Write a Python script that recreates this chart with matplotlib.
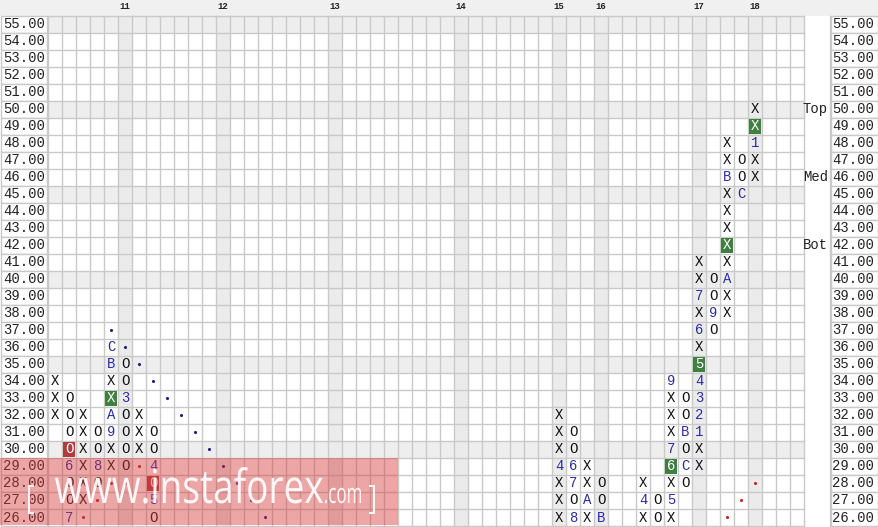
import matplotlib.pyplot as plt
from matplotlib.patches import Rectangle, PathPatch
from matplotlib.textpath import TextPath
from matplotlib.font_manager import FontProperties
from matplotlib.transforms import Affine2D

# --- Data ---
prices = [55, 54, 53, 52, 51, 50, 49, 48, 47, 46, 45, 44, 43, 42, 41, 40,
          39, 38, 37, 36, 35, 34, 33, 32, 31, 30, 29, 28, 27, 26]
band_prices = [55, 50, 45, 40, 35, 30]

month_labels = ['11', '12', '13', '14', '15', '16', '17', '18']
month_cols = [5, 12, 20, 29, 36, 39, 46, 50]

col_idx = [0, 1, 2, 3, 4, 5, 6, 7, 36, 37, 38, 39, 42, 43, 44, 45, 46, 47, 48, 49, 50]
col_kind = ['X', 'O', 'X', 'O', 'X', 'O', 'X', 'O', 'X', 'O', 'X', 'O', 'X', 'O',
            'X', 'O', 'X', 'O', 'X', 'O', 'X']
col_low = [32, 26, 27, 28, 29, 29, 30, 26, 26, 26, 26, 26, 26, 26, 26, 28, 29, 37, 38, 45, 46]
col_high = [34, 33, 32, 31, 36, 35, 32, 31, 32, 31, 29, 28, 28, 27, 34, 33, 41, 40, 48, 47, 50]

# month markers that replace a box symbol
mark_col = [1, 1, 3, 4, 4, 4, 4, 5, 7, 7, 36, 37, 37, 37, 38, 39, 42, 44, 44, 44, 44,
            45, 45, 46, 46, 46, 46, 46, 46, 46, 47, 48, 48, 49, 50]
mark_price = [29, 26, 29, 31, 32, 35, 36, 33, 29, 27, 29, 29, 28, 26, 27, 26, 27, 27, 29, 30, 34,
              31, 29, 31, 32, 33, 34, 35, 37, 39, 38, 40, 46, 45, 48]
mark_text = ['6', '7', '8', '9', 'A', 'B', 'C', '3', '4', '5', '4', '6', '7', '8', 'A', 'B', '4', '5', '6', '7', '9',
             'B', 'C', '1', '2', '3', '4', '5', '6', '7', '9', 'A', 'B', 'C', '1']

green_col = [4, 44, 46, 48, 50]
green_price = [33, 29, 35, 42, 49]
red_col = [1, 7]
red_price = [30, 28]

# trend lines
res_cols = [4, 5, 6, 7, 8, 9, 10, 11, 12, 13, 14, 15]
res_vals = [37, 36, 35, 34, 33, 32, 31, 30, 29, 28, 27, 26]
sup_cols = [2, 3, 4, 5, 6, 48, 49, 50]
sup_vals = [26, 27, 28, 28, 29, 26, 27, 28]

side_text = ['Top', 'Med', 'Bot']
side_price = [50, 46, 42]

n_cols = 54

# --- Geometry (pixels) ---
W, H = 879, 527
CW, RH = 14, 17
X0, Y0 = 48, 16


def px(x):
    return -0.5 + (x - X0) / CW


def py(y):
    return 55.5 - (y - Y0) / RH


fig = plt.figure(figsize=(W / 100, H / 100), dpi=100)
ax = fig.add_axes([0, 0, 1, 1])
ax.axis('off')

mono = 'Liberation Mono'
grid_c = '#c9c9c9'
band_c = '#eeeeee'
blue = '#2b2ba6'

x_left, x_right = -0.5, n_cols - 0.5
y_bot, y_top = 25.5, 55.5

# header
ax.add_patch(Rectangle((px(0), y_top), px(W) - px(0), py(0) - y_top,
                       color='#f0f0f0', lw=0, zorder=0))
for lab, c in zip(month_labels, month_cols):
    ax.text(c, py(7), lab, ha='center', va='center', fontsize=6.5,
            family=mono, weight='bold', color='#222222')

# band rows and month columns
for p in band_prices:
    ax.add_patch(Rectangle((x_left, p - 0.5), n_cols, 1, color=band_c, lw=0, zorder=0))
for c in month_cols:
    ax.add_patch(Rectangle((c - 0.5, y_bot), 1, y_top - y_bot, color='#ebebeb', lw=0, zorder=0))

# grid
for i in range(n_cols + 1):
    ax.plot([x_left + i, x_left + i], [y_bot, y_top], color=grid_c, lw=1, zorder=1)
for i in range(len(prices) + 1):
    ax.plot([x_left, x_right], [y_bot + i, y_bot + i], color=grid_c, lw=1, zorder=1)
ax.plot([px(830), px(830)], [y_bot, y_top], color=grid_c, lw=1, zorder=1)

# price label columns
for p in prices:
    for a, b in [(px(1), px(47)), (px(831), px(878))]:
        ax.add_patch(Rectangle((a, p - 0.5), b - a, 1, facecolor='white',
                               edgecolor=grid_c, lw=1, zorder=1))
    ax.text(px(45), p, f'{p:.2f}', ha='right', va='center', fontsize=10, family=mono, color='#222222')
    ax.text(px(874), p, f'{p:.2f}', ha='right', va='center', fontsize=10, family=mono, color='#222222')

for t, p in zip(side_text, side_price):
    ax.text(px(828), p, t, ha='right', va='center', fontsize=10, family=mono, color='#222222')

# boxes
marks = {(c, p): t for c, p, t in zip(mark_col, mark_price, mark_text)}
greens = set(zip(green_col, green_price))
reds = set(zip(red_col, red_price))
for c, k, lo, hi in zip(col_idx, col_kind, col_low, col_high):
    for p in range(lo, hi + 1):
        key = (c, p)
        txt = marks.get(key, k)
        color = blue if key in marks else '#111111'
        if key in greens or key in reds:
            fc = '#3f7f3f' if key in greens else '#b23b3b'
            ax.add_patch(Rectangle((c - 0.5 + 0.08, p - 0.5 + 0.07), 0.84, 0.86,
                                   color=fc, lw=0, zorder=2))
            color = 'white'
        ax.text(c, p, txt, ha='center', va='center', fontsize=10, family=mono,
                color=color, zorder=3)

# trend lines
ax.scatter(res_cols, res_vals, s=5, color='#1c1c8a', zorder=3, lw=0)
ax.scatter(sup_cols, sup_vals, s=5, color='#d42020', zorder=3, lw=0)

ax.set_xlim(px(0), px(W))
ax.set_ylim(py(H), py(0))

# watermark
ax.add_patch(Rectangle((px(0), py(525)), px(398) - px(0), py(458) - py(525),
                       color='#d63a3a', alpha=0.45, lw=0, zorder=4))

wm_font = FontProperties(family='Open Sans')


def wm_text(s, x0, x1, base, size):
    # text squeezed horizontally to span x0..x1 px, baseline at `base` px from top
    tp = TextPath((0, 0), s, size=size, prop=wm_font)
    ext = tp.get_extents()
    sx = (x1 - x0) / ext.width
    tr = Affine2D().translate(-ext.x0, 0).scale(sx, 1).translate(x0, H - base)
    fig.add_artist(PathPatch(tp, transform=tr, color='white', alpha=0.92, lw=0, zorder=5))


wm_text('[', 28, 34, 509, 34)
wm_text('www.instaforex', 55, 323, 503, 47)
wm_text('.com', 325, 361, 503, 28)
wm_text(']', 369, 375, 509, 34)

plt.savefig('out.png', dpi=100)
